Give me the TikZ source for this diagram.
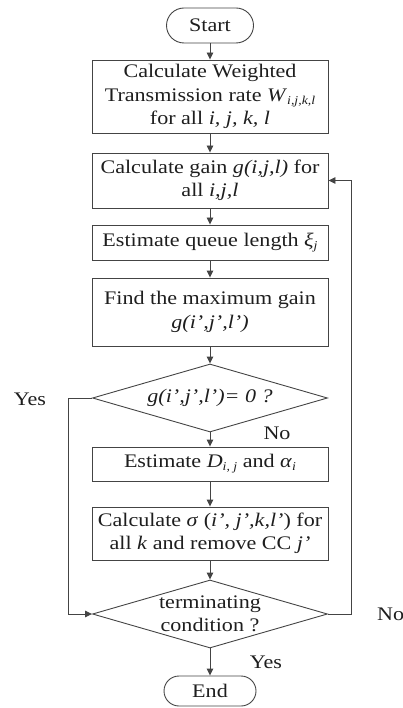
\documentclass[tikz,border=0pt]{standalone}
\usepackage{fontspec}
\setmainfont[FakeStretch=1.15]{Liberation Serif}
\usetikzlibrary{arrows.meta,shapes.geometric}
\newcommand\sbs[1]{\raisebox{-0.35ex}{\fontsize{12}{12}\selectfont\itshape #1}}
\definecolor{ln}{HTML}{444444}
\definecolor{tx}{HTML}{1E1E1E}
\begin{document}
\begin{tikzpicture}[x=1pt,y=-1pt,
  every node/.style={text=tx,font=\fontsize{19.2}{23.5}\selectfont},
  box/.style={draw=ln,line width=0.9pt,rectangle,minimum width=236pt,inner sep=2pt,align=center},
  pill/.style={draw=ln,line width=0.9pt,rectangle,rounded corners=#1,inner sep=0pt},
  dia/.style={draw=ln,line width=0.9pt,diamond,shape aspect=3.45,minimum width=235pt,minimum height=68pt,inner sep=0pt,align=center},
  arr/.style={draw=ln,line width=0.9pt,-{Triangle[length=7pt,width=6.5pt]}},
  lbl/.style={inner sep=0pt}]
\useasboundingbox (0,0) rectangle (403,708);
\node[pill=17.5pt,minimum width=87pt,minimum height=35pt] (start) at (210,25.5) {Start};
\node[box,minimum height=73pt] (b1) at (210,96.5) {Calculate Weighted\\Transmission rate \textit{W}\sbs{i,j,k,l}\\for all \textit{i, j, k, l}};
\node[box,minimum height=55pt] (b2) at (210,180.5) {Calculate gain \textit{g(i,j,l)} for\\all \textit{i,j,l}};
\node[box,minimum height=35pt] (b3) at (210,242.5) {Estimate queue length \textit{ξ}\sbs{j}};
\node[box,minimum height=68pt] (b4) at (210,312) {Find the maximum gain\\\textit{g(i’,j’,l’)}};
\node[dia] (d1) at (210,398) {\textit{g(i’,j’,l’)= 0 ?}};
\node[box,minimum height=34pt] (b5) at (210,464) {Estimate \textit{D}\sbs{i, j} and \textit{α}\sbs{i}};
\node[box,minimum height=53pt] (b6) at (210,533.5) {Calculate \textit{σ} (\textit{i’, j’,k,l’}) for\\all \textit{k} and remove CC \textit{j’}};
\node[dia] (d2) at (210,614) {terminating\\condition ?};
\node[pill=15pt,minimum width=92pt,minimum height=30pt] (end) at (210,691) {End};
\draw[arr] (start) -- (b1);
\draw[arr] (b1) -- (b2);
\draw[arr] (b2) -- (b3);
\draw[arr] (b3) -- (b4);
\draw[arr] (b4) -- (d1);
\draw[arr] (d1) -- (b5);
\draw[arr] (b5) -- (b6);
\draw[arr] (b6) -- (d2);
\draw[arr] (d2) -- (end);
\draw[arr] (d1.west) -- ++(-24,0) |- (d2.west);
\draw[arr] (d2.east) -- ++(23,0) |- (b2.east);
\node[lbl] (yes1) at (30,399) {Yes};
\node[lbl] (no1) at (277,433) {No};
\node[lbl,anchor=west] (no2) at (377,614) {No};
\node[lbl] (yes2) at (266,662) {Yes};
\end{tikzpicture}
\end{document}
